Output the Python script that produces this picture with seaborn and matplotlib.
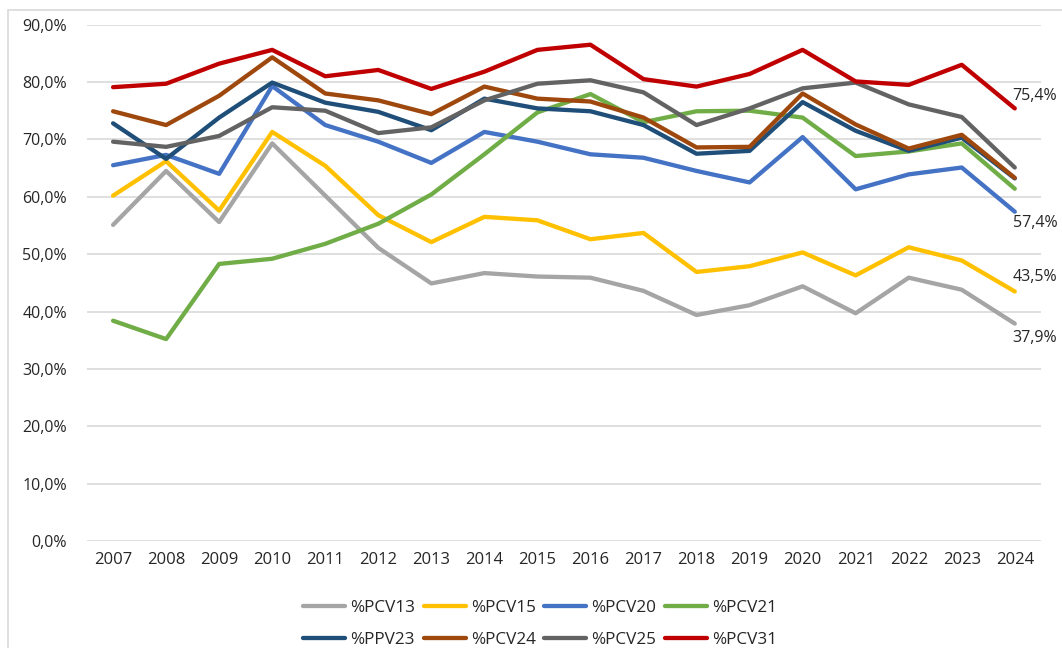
import pandas as pd
import matplotlib.pyplot as plt
import seaborn as sns
from matplotlib.patches import Rectangle

years = list(range(2007, 2025))

pcv13 = [55.1, 64.5, 55.6, 69.3, 60.2, 51.1, 44.9, 46.7, 46.1, 45.9, 43.6, 39.4, 41.1, 44.4, 39.7, 45.9, 43.8, 37.9]
pcv15 = [60.2, 66.2, 57.6, 71.3, 65.4, 56.8, 52.1, 56.5, 55.9, 52.6, 53.7, 46.9, 47.9, 50.3, 46.3, 51.2, 48.9, 43.5]
pcv20 = [65.5, 67.3, 64.0, 79.3, 72.5, 69.6, 65.9, 71.3, 69.6, 67.4, 66.8, 64.5, 62.5, 70.4, 61.3, 63.9, 65.1, 57.4]
pcv21 = [38.4, 35.2, 48.3, 49.2, 51.8, 55.3, 60.4, 67.4, 74.7, 77.9, 73.0, 74.9, 75.0, 73.8, 67.1, 67.9, 69.3, 61.4]
ppv23 = [72.8, 66.6, 73.8, 79.9, 76.4, 74.8, 71.6, 77.1, 75.4, 74.9, 72.5, 67.5, 68.0, 76.5, 71.5, 68.0, 70.3, 63.2]
pcv24 = [74.9, 72.5, 77.6, 84.3, 78.0, 76.8, 74.4, 79.2, 77.1, 76.6, 73.8, 68.6, 68.7, 78.0, 72.6, 68.4, 70.8, 63.3]
pcv25 = [69.6, 68.7, 70.6, 75.6, 75.0, 71.1, 72.1, 76.8, 79.7, 80.3, 78.2, 72.5, 75.4, 78.9, 79.9, 76.1, 73.9, 65.1]
pcv31 = [79.1, 79.7, 83.2, 85.6, 81.0, 82.1, 78.8, 81.8, 85.6, 86.5, 80.5, 79.2, 81.4, 85.6, 80.1, 79.5, 83.0, 75.4]

series_names = ['%PCV13', '%PCV15', '%PCV20', '%PCV21', '%PPV23', '%PCV24', '%PCV25', '%PCV31']
colors = ['#A5A5A5', '#FFC000', '#4472C4', '#70AD47', '#1F4E79', '#9E480E', '#636363', '#C00000']

# labels shown at the end of some lines: (text, value, offset)
end_labels = [('75,4%', pcv31[-1], 2.2), ('57,4%', pcv20[-1], -1.9),
              ('43,5%', pcv15[-1], 2.5), ('37,9%', pcv13[-1], -2.5)]

df = pd.DataFrame({'Year': years})
for name, vals in zip(series_names, [pcv13, pcv15, pcv20, pcv21, ppv23, pcv24, pcv25, pcv31]):
    df[name] = vals
df['Year'] = df['Year'].astype(str)

long = df.melt(id_vars='Year', var_name='Serie', value_name='Valor')

sns.set_style('white')
plt.rcParams['font.family'] = ['Open Sans', 'DejaVu Sans']

fig = plt.figure(figsize=(10.62, 6.48), dpi=100)
ax = fig.add_axes([0.0815, 0.165, 0.899, 0.797])

sns.lineplot(data=long, x='Year', y='Valor', hue='Serie', hue_order=series_names,
             palette=colors, linewidth=3.1, sort=False, ax=ax)

ax.set_ylim(0, 90)
ax.set_xlim(-0.5, len(years) - 0.5)
ax.set_yticks(range(0, 91, 10))
ax.set_yticklabels([f'{v},0%' for v in range(0, 91, 10)], fontsize=11.5, color='#262626')
ax.tick_params(axis='x', labelsize=12, labelcolor='#262626', length=0, pad=8)
ax.tick_params(axis='y', length=0, pad=14)
ax.grid(axis='y', color='#D9D9D9', linewidth=1.2)
ax.set_axisbelow(True)
for s in ax.spines.values():
    s.set_visible(False)
ax.set_xlabel('')
ax.set_ylabel('')

last = len(years) - 1
for txt, val, off in end_labels:
    ax.text(last - 0.04, val + off, txt, fontsize=11.5, color='#262626', va='center', ha='left')

# legend filled row by row (matplotlib fills column-wise)
handles, labels = ax.get_legend_handles_labels()
order = [0, 4, 1, 5, 2, 6, 3, 7]
ax.legend([handles[i] for i in order], [labels[i] for i in order],
          loc='upper center', bbox_to_anchor=(0.475, -0.085), ncol=4,
          frameon=False, fontsize=12.3, handlelength=2.45, handletextpad=0.3,
          columnspacing=0.5, labelspacing=0.9)

fig.patches.append(Rectangle((8 / 1062, -0.1), 1.2, 1 - 10 / 648 + 0.1, transform=fig.transFigure,
                             fill=False, edgecolor='#D9D9D9', linewidth=1.2))

fig.savefig('out.png', dpi=100)
